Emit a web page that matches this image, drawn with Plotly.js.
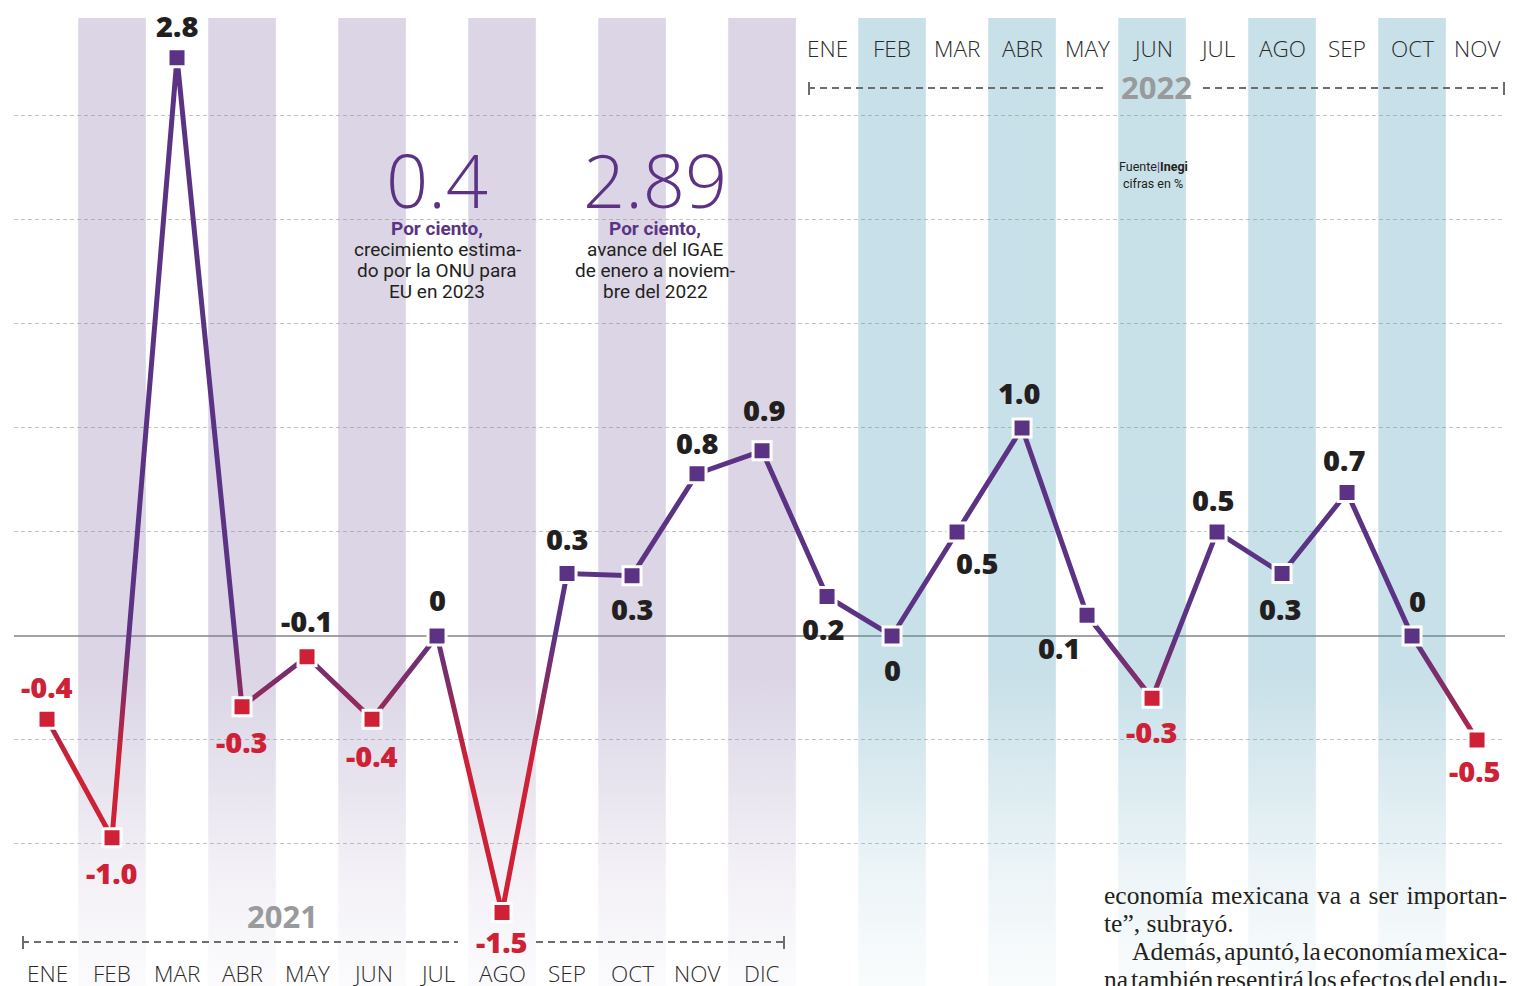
<!DOCTYPE html>
<html><head><meta charset="utf-8">
<script src="https://cdn.plot.ly/plotly-3.0.1.min.js"></script>
<style>html,body{margin:0;padding:0;background:#fff;overflow:hidden}#chart{width:1517px;height:986px}</style>
</head><body><div id="chart"></div>
<script>
// ---------- data ----------
const months2021 = ['ENE','FEB','MAR','ABR','MAY','JUN','JUL','AGO','SEP','OCT','NOV','DIC'];
const months2022 = ['ENE','FEB','MAR','ABR','MAY','JUN','JUL','AGO','SEP','OCT','NOV'];
const values2021 = [-0.4, -0.97, 2.78, -0.34, -0.1, -0.4, 0, -1.33, 0.3, 0.29, 0.78, 0.89];
const values2022 = [0.19, 0, 0.5, 1.0, 0.1, -0.3, 0.5, 0.3, 0.69, 0, -0.5];
const labels2021 = ['-0.4','-1.0','2.8','-0.3','-0.1','-0.4','0','-1.5','0.3','0.3','0.8','0.9'];
const labels2022 = ['0.2','0','0.5','1.0','0.1','-0.3','0.5','0.3','0.7','0','-0.5'];
const shaded2021 = ['FEB','ABR','JUN','AGO','OCT','DIC'];
const shaded2022 = ['FEB','ABR','JUN','AGO','OCT'];

// ---------- layout helpers ----------
const W = 1517, H = 986, ML = 14, MR = 12, MT = 18, MB = 0;
const X0 = -0.508, X1 = 22.43, Y0 = -1.683, Y1 = 2.971;
const pxX = p => X0 + (p - ML) / (W - ML - MR) * (X1 - X0);
const pxY = p => Y1 - (p - MT) / (H - MT - MB) * (Y1 - Y0);

const PURPLE = '#5c3384', RED = '#cf2135', INK = '#231f20', GRAY = '#999a9c';
const values = values2021.concat(values2022);
const labels = labels2021.concat(labels2022);
const xs = values.map((v, i) => i);

// label offsets (px): [dx, dy]  (dy positive = up)
const labelOffsets = [[0,33],[0,-35],[0,32],[0,-35],[0,36],[0,-36],[0,36],[0,-29],[0,35],[0,-33],[0,31],[2,41],
                      [-4,-32],[0,-34],[20,-31],[-3,35],[-28,-32],[0,-33],[-4,32],[-2,-35],[-3,33],[5,35],[-2,-31]];

const traces = [];
function band(idx, rgb) {
  const a = 0.3;
  traces.push({
    type: 'scatter', mode: 'none', hoverinfo: 'skip', showlegend: false,
    x: [idx - 0.52, idx + 0.52, idx + 0.52, idx - 0.52, idx - 0.52],
    y: [Y1, Y1, Y0, Y0, Y1],
    fill: 'toself',
    fillgradient: {
      type: 'vertical', start: Y0, stop: Y1,
      colorscale: [[0, `rgba(${rgb},0.03)`], [0.12, `rgba(${rgb},${a*0.35})`], [0.32, `rgba(${rgb},${a})`], [1, `rgba(${rgb},${a})`]]
    }
  });
}
shaded2021.forEach(m => band(months2021.indexOf(m), '135,115,170'));
shaded2022.forEach(m => band(12 + months2022.indexOf(m), '72,152,180'));

traces.push({
  type: 'scatter', mode: 'lines+markers', x: xs, y: values, hoverinfo: 'skip', showlegend: false,
  line: { color: PURPLE, width: 5 },
  marker: { symbol: 'square', size: 18, color: values.map(v => v < 0 ? RED : PURPLE), line: { color: '#ffffff', width: 3 } },
  cliponaxis: false
});

const ann = [];
const labFont = { family: 'Open Sans, sans-serif', size: 29, weight: 800 };
labels.forEach((t, i) => {
  ann.push({ x: i, y: values[i], xref: 'x', yref: 'y', text: t, showarrow: false,
    xshift: labelOffsets[i][0], yshift: labelOffsets[i][1], xanchor: 'center', yanchor: 'middle',
    font: Object.assign({}, labFont, { color: parseFloat(t) < -0.2 ? RED : INK }) });
});
const monFont = { family: 'Open Sans, sans-serif', size: 22.5, weight: 300, color: '#2a2a2a' };
months2021.forEach((m, i) => ann.push({ x: i, y: pxY(973), text: m, showarrow: false, font: monFont, yanchor: 'middle' }));
months2022.forEach((m, i) => ann.push({ x: 12 + i, y: pxY(48), text: m, showarrow: false, font: monFont, yanchor: 'middle' }));

const yearFont = { family: 'Open Sans, sans-serif', size: 31, weight: 700, color: GRAY };
ann.push({ x: pxX(282), y: pxY(916), text: '2021', showarrow: false, font: yearFont, yanchor: 'middle' });
ann.push({ x: pxX(1156), y: pxY(87), text: '2022', showarrow: false, font: yearFont, yanchor: 'middle' });

const bigFont = { family: 'Open Sans, sans-serif', size: 74, weight: 300, color: PURPLE };
ann.push({ x: pxX(437), y: pxY(179), text: '0.4', showarrow: false, font: bigFont, yanchor: 'middle' });
ann.push({ x: pxX(655), y: pxY(179), text: '2.89', showarrow: false, font: bigFont, yanchor: 'middle' });
const pcFont = { family: 'Roboto, sans-serif', size: 19, weight: 700, color: PURPLE };
const bodyFont = { family: 'Roboto, sans-serif', size: 19, weight: 400, color: INK };
const note1 = ['crecimiento estima-', 'do por la ONU para', 'EU en 2023'];
const note2 = ['avance del IGAE', 'de enero a noviem-', 'bre del 2022'];
ann.push({ x: pxX(437), y: pxY(228), text: 'Por ciento,', showarrow: false, font: pcFont, yanchor: 'middle' });
ann.push({ x: pxX(655), y: pxY(228), text: 'Por ciento,', showarrow: false, font: pcFont, yanchor: 'middle' });
note1.forEach((t, k) => ann.push({ x: pxX(437), y: pxY(249 + 21 * k), text: t, showarrow: false, font: bodyFont, yanchor: 'middle' }));
note2.forEach((t, k) => ann.push({ x: pxX(655), y: pxY(249 + 21 * k), text: t, showarrow: false, font: bodyFont, yanchor: 'middle' }));

const srcFont = { family: 'Roboto, sans-serif', size: 12.5, color: INK };
ann.push({ x: pxX(1153), y: pxY(166), text: 'Fuente<span style="color:' + PURPLE + '">|</span><b>Inegi</b>', showarrow: false, font: srcFont, yanchor: 'middle' });
ann.push({ x: pxX(1153), y: pxY(183), text: 'cifras en %', showarrow: false, font: srcFont, yanchor: 'middle' });

const article = [
  ['economía mexicana va a ser importan-', 1102, 895, true],
  ['te”, subrayó.', 1102, 923, false],
  ['Además, apuntó, la economía mexica-', 1130, 951, true],
  ['na también resentirá los efectos del endu-', 1102, 979, true]
];
const artFont = { family: 'Liberation Serif, serif', size: 25.5, color: INK };
article.forEach(a => ann.push({ x: pxX(a[1]), y: pxY(a[2]), text: a[0], showarrow: false, font: artFont, xanchor: 'left', align: 'left', yanchor: 'middle' }));

// bracket lines
const dash = { color: '#6d6d6d', width: 2, dash: '7px,5px' };
const solid = { color: '#6d6d6d', width: 2 };
const shapes = [
  { type: 'line', xref: 'x', yref: 'y', x0: pxX(22), x1: pxX(458), y0: pxY(942), y1: pxY(942), line: dash },
  { type: 'line', xref: 'x', yref: 'y', x0: pxX(536), x1: pxX(785), y0: pxY(942), y1: pxY(942), line: dash },
  { type: 'line', xref: 'x', yref: 'y', x0: pxX(23), x1: pxX(23), y0: pxY(936), y1: pxY(949), line: solid },
  { type: 'line', xref: 'x', yref: 'y', x0: pxX(784), x1: pxX(784), y0: pxY(936), y1: pxY(949), line: solid },
  { type: 'line', xref: 'x', yref: 'y', x0: pxX(808), x1: pxX(1106), y0: pxY(88), y1: pxY(88), line: dash },
  { type: 'line', xref: 'x', yref: 'y', x0: pxX(1203), x1: pxX(1505), y0: pxY(88), y1: pxY(88), line: dash },
  { type: 'line', xref: 'x', yref: 'y', x0: pxX(809), x1: pxX(809), y0: pxY(82), y1: pxY(95), line: solid },
  { type: 'line', xref: 'x', yref: 'y', x0: pxX(1504), x1: pxX(1504), y0: pxY(82), y1: pxY(95), line: solid }
];

const layout = {
  width: W, height: H, margin: { l: ML, r: MR, t: MT, b: MB, pad: 0 },
  paper_bgcolor: '#ffffff', plot_bgcolor: 'rgba(0,0,0,0)', showlegend: false,
  xaxis: { range: [X0, X1], visible: false, fixedrange: true },
  yaxis: { range: [Y0, Y1], tickvals: [-1, -0.5, 0, 0.5, 1, 1.5, 2, 2.5], showticklabels: false, ticks: '',
    showgrid: true, gridcolor: '#c4c4c4', gridwidth: 1, griddash: '4px,3px',
    zeroline: true, zerolinecolor: '#a3a3a3', zerolinewidth: 1.5, showline: false, fixedrange: true },
  annotations: ann, shapes: shapes
};

Plotly.newPlot('chart', traces, layout, { staticPlot: true, displayModeBar: false }).then(gd => {
  const ya = gd._fullLayout.yaxis;
  const svg = gd.querySelector('svg.main-svg');
  const ns = 'http://www.w3.org/2000/svg';
  let defs = svg.querySelector('defs');
  if (!defs) { defs = document.createElementNS(ns, 'defs'); svg.insertBefore(defs, svg.firstChild); }
  const g = document.createElementNS(ns, 'linearGradient');
  g.setAttribute('id', 'igaeLineGrad');
  g.setAttribute('gradientUnits', 'userSpaceOnUse');
  g.setAttribute('x1', 0); g.setAttribute('x2', 0);
  g.setAttribute('y1', ya.l2p(0.02)); g.setAttribute('y2', ya.l2p(-0.6));
  [[0, PURPLE], [0.5, '#8c2a5f'], [1, RED]].forEach(s => {
    const st = document.createElementNS(ns, 'stop');
    st.setAttribute('offset', s[0]); st.setAttribute('stop-color', s[1]);
    g.appendChild(st);
  });
  defs.appendChild(g);
  const paths = gd.querySelectorAll('.scatterlayer .trace path.js-line');
  const p = paths[paths.length - 1];
  if (p) p.style.stroke = 'url(#igaeLineGrad)';

  // justify the article column (right edge at 1505 px)
  const texts = Array.from(gd.querySelectorAll('.annotation-text'));
  article.forEach(a => {
    if (!a[3]) return;
    const el = texts.find(t => t.textContent === a[0]);
    if (!el) return;
    const target = 1505 - a[1];
    const len = el.getComputedTextLength();
    const spaces = (a[0].match(/ /g) || []).length;
    if (spaces) {
      el.style.wordSpacing = ((target - len) / spaces) + 'px';
      if (el.getAttribute('text-anchor') === 'middle') {
        const x = parseFloat(el.getAttribute('x') || 0);
        el.setAttribute('x', x - len / 2);
        el.setAttribute('text-anchor', 'start');
        el.querySelectorAll('tspan').forEach(ts => { if (ts.hasAttribute('x')) ts.setAttribute('x', x - len / 2); });
      }
    }
  });
});
</script></body></html>
